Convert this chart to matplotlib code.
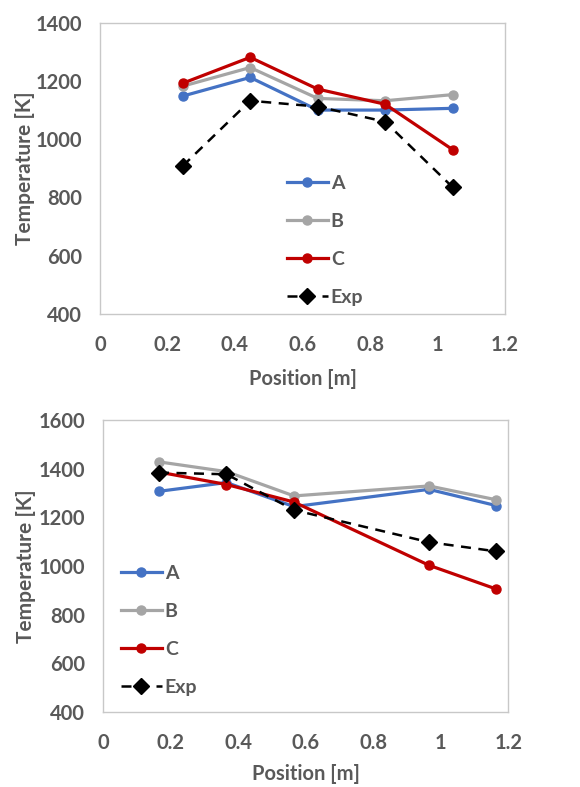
import matplotlib
matplotlib.use("Agg")
import matplotlib.pyplot as plt

plt.rcParams['font.family'] = ['Lato', 'DejaVu Sans']
plt.rcParams['font.weight'] = 'bold'

# Top chart data
x_top = [0.245, 0.445, 0.645, 0.845, 1.045]
a_top = [1148, 1212, 1100, 1100, 1106]
b_top = [1182, 1246, 1140, 1132, 1153]
c_top = [1192, 1281, 1172, 1120, 964]
exp_top = [908, 1132, 1112, 1060, 835]

# Bottom chart data
x_bot = [0.165, 0.365, 0.565, 0.965, 1.165]
a_bot = [1307, 1343, 1244, 1315, 1248]
b_bot = [1428, 1388, 1288, 1329, 1272]
c_bot = [1386, 1335, 1263, 1003, 905]
exp_bot = [1384, 1377, 1230, 1098, 1060]

labels = ['A', 'B', 'C', 'Exp']
top_yticks = [400, 600, 800, 1000, 1200, 1400]
bot_yticks = [400, 600, 800, 1000, 1200, 1400, 1600]
xticks = [0, 0.2, 0.4, 0.6, 0.8, 1.0, 1.2]
xticklabels = ['0', '0.2', '0.4', '0.6', '0.8', '1', '1.2']

BLUE = '#4472C4'
GRAY = '#A5A5A5'
RED = '#C00000'
TXT = '#595959'

fig = plt.figure(figsize=(5.8, 7.87), dpi=100)
ax1 = fig.add_axes([0.1724, 0.601, 0.6983, 0.3702])
ax2 = fig.add_axes([0.1781, 0.0953, 0.6983, 0.3710])


def draw(ax, x, a, b, c, e, yticks, legpos, xlpad, ylpad):
    ax.plot(x, a, color=BLUE, lw=2.3, marker='o', ms=6.5, label=labels[0])
    ax.plot(x, b, color=GRAY, lw=2.3, marker='o', ms=6.5, label=labels[1])
    ax.plot(x, c, color=RED, lw=2.3, marker='o', ms=6.5, label=labels[2])
    ax.plot(x, e, color='black', lw=1.8, ls=(0, (4, 3)), marker='D', ms=8,
            label=labels[3])
    ax.set_xlim(0, 1.2)
    ax.set_ylim(yticks[0], yticks[-1])
    ax.set_yticks(yticks)
    ax.set_xticks(xticks)
    ax.set_xticklabels(xticklabels)
    ax.tick_params(length=0, labelsize=14.5, colors=TXT)
    ax.tick_params(axis='x', pad=15)
    ax.tick_params(axis='y', pad=13)
    for lab in ax.get_xticklabels() + ax.get_yticklabels():
        lab.set_fontweight('bold')
    for s in ax.spines.values():
        s.set_color('#C8C8C8')
        s.set_linewidth(1.0)
    ax.set_xlabel('Position [m]', fontsize=14.5, color=TXT, fontweight='bold',
                  labelpad=xlpad)
    ax.set_ylabel('Temperature [K]', fontsize=15, color=TXT,
                  fontweight='bold', labelpad=ylpad)
    leg = ax.legend(loc='upper left', bbox_to_anchor=legpos,
                    bbox_transform=fig.transFigure, frameon=False,
                    fontsize=14, labelspacing=1.08, handlelength=2.1,
                    handletextpad=0.15, borderpad=0, borderaxespad=0)
    for t in leg.get_texts():
        t.set_color(TXT)
        t.set_fontweight('bold')


draw(ax1, x_top, a_top, b_top, c_top, exp_top, top_yticks,
     (287 / 580, 1 - 175 / 787), 10, 0)
draw(ax2, x_bot, a_bot, b_bot, c_bot, exp_bot, bot_yticks,
     (121 / 580, 1 - 565 / 787), 8, 2)

fig.savefig('out.png', dpi=100)
